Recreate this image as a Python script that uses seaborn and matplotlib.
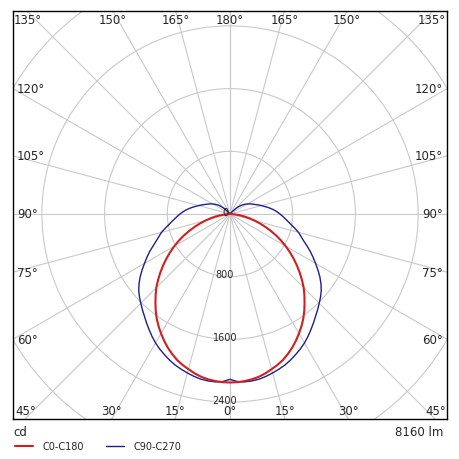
import numpy as np
import pandas as pd
import matplotlib.pyplot as plt
import seaborn as sns

# Photometric data: intensity (cd) every 2.5 deg of gamma
gamma_c0 = np.arange(0, 90.1, 2.5)
cd_c0 = [2150, 2148, 2140, 2128, 2110, 2083, 2050, 2018, 1980, 1932,
         1880, 1822, 1760, 1697, 1630, 1557, 1480, 1405, 1330, 1245,
         1160, 1075, 990, 905, 820, 735, 650, 563, 480, 400,
         325, 255, 190, 128, 70, 30, 0]

gamma_c90 = np.arange(0, 180.1, 2.5)
cd_c90 = [2110, 2140, 2150, 2148, 2140, 2122, 2100, 2076, 2050, 2017,
          1980, 1942, 1900, 1852, 1800, 1750, 1700, 1655, 1610, 1567,
          1520, 1463, 1400, 1330, 1260, 1195, 1130, 1063, 1000, 950,
          905, 848, 795, 750, 709, 673, 638, 603, 567, 528,
          489, 450, 415, 383, 351, 325, 302, 280, 257, 233,
          209, 183, 151, 114, 72, 45, 25, 12, 5, 0,
          0, 0, 0, 0, 0, 0, 0, 0, 0, 0,
          0, 0, 0]

ring_values = [800, 1600, 2400, 3200]
ring_labels = ['0', '800', '1600', '2400']
ray_angles = list(range(0, 181, 15))
unit_label = 'cd'
flux_label = '8160 lm'

colors = {'C0-C180': '#d01f1f', 'C90-C270': '#1e1e8f'}


def to_xy(gamma, cd):
    g = np.radians(np.array(gamma, dtype=float))
    i = np.array(cd, dtype=float)
    # left half (C180 / C270) then right half (C0 / C90)
    x = np.concatenate([-(i * np.sin(g))[::-1], (i * np.sin(g))[1:]])
    y = np.concatenate([-(i * np.cos(g))[::-1], -(i * np.cos(g))[1:]])
    return x, y


rows = []
for name, g, c in [('C0-C180', gamma_c0, cd_c0), ('C90-C270', gamma_c90, cd_c90)]:
    x, y = to_xy(g, c)
    for k in range(len(x)):
        rows.append({'curve': name, 'order': k, 'x': x[k], 'y': y[k]})
df = pd.DataFrame(rows)

sns.set_style('white')
plt.rcParams['font.family'] = ['DejaVu Sans']

W = 460
fig = plt.figure(figsize=(4.6, 4.6), dpi=100)
ax = fig.add_axes([13 / W, 40 / W, 434 / W, 408 / W])

s = 800 / 62.7  # cd per pixel
xmax = 217 * s
ytop = 203 * s
ybot = -205 * s
ax.set_xlim(-xmax, xmax)
ax.set_ylim(ybot, ytop)

grid_kw = dict(color='#c9c9c9', lw=0.8, zorder=1)
t = np.linspace(0, 2 * np.pi, 400)
for r in ring_values:
    ax.plot(r * np.cos(t), r * np.sin(t), **grid_kw)
R = 6000
for a in ray_angles:
    ar = np.radians(a)
    ax.plot([0, -R * np.sin(ar)], [0, -R * np.cos(ar)], **grid_kw)
    ax.plot([0, R * np.sin(ar)], [0, -R * np.cos(ar)], **grid_kw)

sns.lineplot(data=df[df.curve == 'C90-C270'], x='x', y='y', sort=False, estimator=None,
             color=colors['C90-C270'], lw=1.0, ax=ax, zorder=3, label='C90-C270')
sns.lineplot(data=df[df.curve == 'C0-C180'], x='x', y='y', sort=False, estimator=None,
             color=colors['C0-C180'], lw=1.5, ax=ax, zorder=4, label='C0-C180')

# ring labels
for r, lab in zip([0] + ring_values[:3], ring_labels):
    ax.text(-5 * s, -(r - 2.5 * s), lab, ha='center', va='center', fontsize=7, zorder=5)

# angle labels along the frame
fs = 8.5
ytxt_top = (215 - 20) * s
ytxt_bot = -(412 - 215) * s
for a in ray_angles:
    ar = np.radians(a)
    lab = f'{a}°'
    if a < 45:
        xx = 205 * np.tan(ar) * s
        for sgn in ([1] if a == 0 else [-1, 1]):
            ax.text(sgn * xx, ytxt_bot, lab, ha='center', va='center', fontsize=fs)
    elif a == 45:
        ax.text(-215 * s, ytxt_bot, lab, ha='left', va='center', fontsize=fs)
        ax.text(216 * s, ytxt_bot, lab, ha='right', va='center', fontsize=fs)
    elif a < 135:
        yy = -217 / np.tan(ar) * s
        ax.text(-213 * s, yy, lab, ha='left', va='center', fontsize=fs)
        ax.text(213 * s, yy, lab, ha='right', va='center', fontsize=fs)
    elif a == 135:
        ax.text(-216 * s, ytxt_top, lab, ha='left', va='center', fontsize=fs)
        ax.text(216 * s, ytxt_top, lab, ha='right', va='center', fontsize=fs)
    else:
        xx = 203 * np.tan(np.pi - ar) * s
        for sgn in ([1] if a == 180 else [-1, 1]):
            ax.text(sgn * xx, ytxt_top, lab, ha='center', va='center', fontsize=fs)

ax.set_xticks([])
ax.set_yticks([])
ax.set_xlabel('')
ax.set_ylabel('')
for sp in ax.spines.values():
    sp.set_visible(True)
    sp.set_color('black')
    sp.set_linewidth(1.0)

handles, labels = ax.get_legend_handles_labels()
ax.get_legend().remove()
order = [labels.index('C0-C180'), labels.index('C90-C270')]
fig.legend([handles[i] for i in order], [labels[i] for i in order],
           loc='center left', bbox_to_anchor=(15 / W, 1 - 447 / W), ncol=2,
           frameon=False, fontsize=7, handlelength=1.8, handletextpad=1.0,
           columnspacing=2.3, borderpad=0, borderaxespad=0)

fig.text(13 / W, 1 - 433 / W, unit_label, ha='left', va='center', fontsize=8.5)
fig.text(443 / W, 1 - 433 / W, flux_label, ha='right', va='center', fontsize=8.5)

plt.savefig('out.png', dpi=100)
